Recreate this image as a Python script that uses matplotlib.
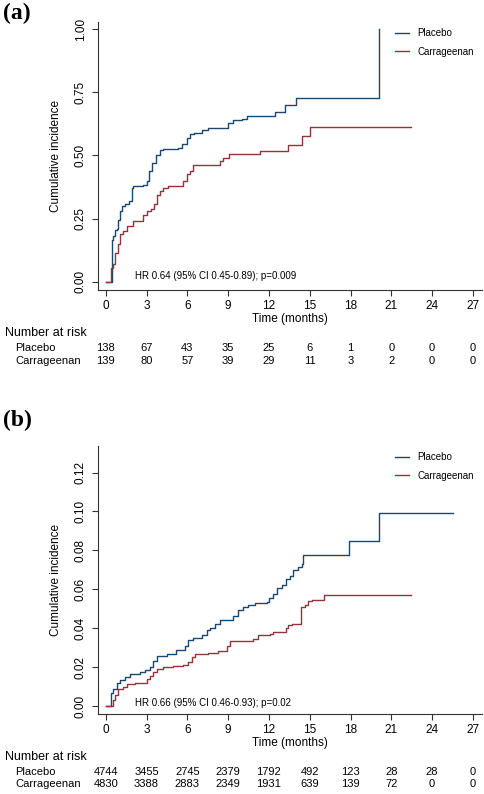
import matplotlib
matplotlib.use("Agg")
import matplotlib.pyplot as plt
from matplotlib.transforms import blended_transform_factory

plt.rcParams['font.family'] = ['Liberation Sans', 'DejaVu Sans']

# ---- panel (a) data ----
a_plac_t = [0, 0.44, 0.56, 0.68, 0.86, 0.93, 1.05, 1.17, 1.42, 1.74, 1.91, 2.03, 2.77,
            3.01, 3.21, 3.38, 3.70, 3.99, 4.24, 5.34, 5.59, 5.96, 6.20, 6.49, 7.06,
            7.54, 9.01, 9.38, 10.0, 10.37, 12.45, 13.18, 13.99, 20.07]
a_plac_y = [0, 0.167, 0.18, 0.206, 0.21, 0.246, 0.28, 0.30, 0.31, 0.32, 0.373, 0.38, 0.385,
            0.40, 0.438, 0.47, 0.50, 0.52, 0.525, 0.53, 0.545, 0.57, 0.585, 0.59, 0.60,
            0.61, 0.63, 0.64, 0.645, 0.655, 0.672, 0.698, 0.729, 1.0]
a_carr_t = [0, 0.39, 0.56, 0.68, 0.93, 1.05, 1.25, 1.54, 2.03, 2.77, 3.01, 3.31, 3.55,
            3.75, 3.99, 4.24, 4.60, 5.71, 5.96, 6.20, 6.44, 8.40, 8.65, 9.09, 11.35,
            13.43, 14.41, 15.02, 22.43]
a_carr_y = [0, 0.054, 0.07, 0.114, 0.15, 0.19, 0.20, 0.22, 0.24, 0.266, 0.28, 0.29, 0.31,
            0.345, 0.36, 0.37, 0.38, 0.40, 0.425, 0.44, 0.464, 0.477, 0.49, 0.504, 0.517,
            0.543, 0.577, 0.612, 0.612]
a_risk_plac = [138, 67, 43, 35, 25, 6, 1, 0, 0, 0]
a_risk_carr = [139, 80, 57, 39, 29, 11, 3, 2, 0, 0]
a_hr = "HR 0.64 (95% CI 0.45-0.89); p=0.009"

# ---- panel (b) data ----
b_plac_t = [0, 0.39, 0.56, 0.81, 1.05, 1.42, 1.79, 2.52, 2.89, 3.26, 3.50, 3.75, 4.49,
            5.20, 5.83, 6.08, 6.44, 7.06, 7.43, 7.67, 8.04, 8.40, 9.01, 9.38, 9.75,
            10.12, 10.49, 10.98, 11.84, 12.03, 12.33, 12.57, 12.94, 13.26, 13.55, 13.79,
            14.16, 14.41, 14.48, 17.91, 20.07, 25.51]
b_plac_y = [0, 0.0065, 0.009, 0.0116, 0.0133, 0.0147, 0.0164, 0.0174, 0.0184, 0.0202,
            0.0232, 0.0256, 0.0267, 0.029, 0.031, 0.0338, 0.0352, 0.0364, 0.039, 0.0403,
            0.042, 0.0441, 0.0444, 0.0465, 0.0492, 0.051, 0.052, 0.0532, 0.0535, 0.0557,
            0.0578, 0.0609, 0.062, 0.0651, 0.067, 0.0697, 0.0715, 0.0732, 0.0774, 0.0846,
            0.0991, 0.0991]
b_carr_t = [0, 0.51, 0.68, 0.93, 1.30, 1.54, 2.15, 3.01, 3.26, 3.50, 3.75, 4.24, 4.97,
            5.71, 6.08, 6.32, 6.57, 7.54, 8.28, 8.90, 9.10, 10.85, 11.22, 12.08, 12.33,
            13.26, 13.43, 13.68, 13.79, 14.36, 14.66, 14.90, 15.15, 16.07, 22.43]
b_carr_y = [0, 0.003, 0.0056, 0.0085, 0.0099, 0.0111, 0.0116, 0.0137, 0.0154, 0.0176,
            0.0188, 0.0198, 0.0205, 0.021, 0.0227, 0.0253, 0.0267, 0.0274, 0.0284, 0.031,
            0.0333, 0.0347, 0.0367, 0.0372, 0.0379, 0.0403, 0.0415, 0.042, 0.0424, 0.0509,
            0.052, 0.0538, 0.0547, 0.0569, 0.0569]
b_risk_plac = [4744, 3455, 2745, 2379, 1792, 492, 123, 28, 28, 0]
b_risk_carr = [4830, 3388, 2883, 2349, 1931, 639, 139, 72, 0, 0]
b_hr = "HR 0.66 (95% CI 0.46-0.93); p=0.02"

x_ticks = [0, 3, 6, 9, 12, 15, 18, 21, 24, 27]
groups = ["Placebo", "Carrageenan"]
colors = ["#1a476f", "#90353b"]

W, H = 484, 794
fig = plt.figure(figsize=(W / 100, H / 100), dpi=100)


def px_y(p):
    # figure fraction from pixel row (top origin)
    return 1 - p / H


def panel(top, bottom, ylim, yticks, yfmt, curves, risk, hr, hr_y, leg_y,
          lab, lab_y, nar_y, row1_y, row2_y):
    ax = fig.add_axes([97.7 / W, px_y(bottom), 384 / W, (bottom - top) / H])
    for (t, y), c, g in zip(curves, colors, groups):
        ax.step(t, y, where='post', color=c, lw=1.0, label=g)
    ax.set_xlim(-0.59, 27.64)
    ax.set_ylim(*ylim)
    ax.set_xticks(x_ticks)
    ax.set_yticks(yticks)
    ax.set_yticklabels([yfmt.format(v) for v in yticks], rotation=90, va='center')
    for s in ['top', 'right']:
        ax.spines[s].set_visible(False)
    for s in ['left', 'bottom']:
        ax.spines[s].set_linewidth(0.8)
        ax.spines[s].set_color('#333333')
    ax.tick_params(axis='both', labelsize=8.5, length=4, width=0.8, color='#333333')
    ax.tick_params(axis='x', pad=3)
    ax.tick_params(axis='y', pad=4)
    ax.set_ylabel("Cumulative incidence", fontsize=8.5, labelpad=9)
    ax.set_xlabel("Time (months)", fontsize=8.5, labelpad=1)

    ax.legend(loc='center left', frameon=False, fontsize=7,
              handlelength=1.5, handletextpad=0.8, labelspacing=0.9,
              bbox_to_anchor=(386 / W, px_y(leg_y)),
              bbox_transform=fig.transFigure)

    fig.text(135 / W, px_y(hr_y), hr, fontsize=7, va='center', ha='left')
    fig.text(3 / W, px_y(lab_y), lab, fontsize=17, fontweight='bold',
             family='Liberation Serif', va='center', ha='left')

    tr = blended_transform_factory(ax.transData, fig.transFigure)
    fig.text(5 / W, px_y(nar_y), "Number at risk", fontsize=9, va='center')
    fig.text(15 / W, px_y(row1_y), groups[0], fontsize=8, va='center')
    fig.text(15 / W, px_y(row2_y), groups[1], fontsize=8, va='center')
    for x, n1, n2 in zip(x_ticks, risk[0], risk[1]):
        ax.text(x, px_y(row1_y), str(n1), transform=tr, fontsize=8,
                ha='center', va='center')
        ax.text(x, px_y(row2_y), str(n2), transform=tr, fontsize=8,
                ha='center', va='center')
    return ax


panel(22, 290, (-0.032, 1.028), [0, 0.25, 0.5, 0.75, 1.0], "{:.2f}",
      [(a_plac_t, a_plac_y), (a_carr_t, a_carr_y)], (a_risk_plac, a_risk_carr),
      a_hr, 276, 42.5, "(a)", 13, 333, 348, 361)

panel(445.7, 714, (-0.0041, 0.1338), [0, 0.02, 0.04, 0.06, 0.08, 0.10, 0.12], "{:.2f}",
      [(b_plac_t, b_plac_y), (b_carr_t, b_carr_y)], (b_risk_plac, b_risk_carr),
      b_hr, 703, 466.5, "(b)", 420, 757, 772, 784)

fig.savefig("out.png", dpi=100)
